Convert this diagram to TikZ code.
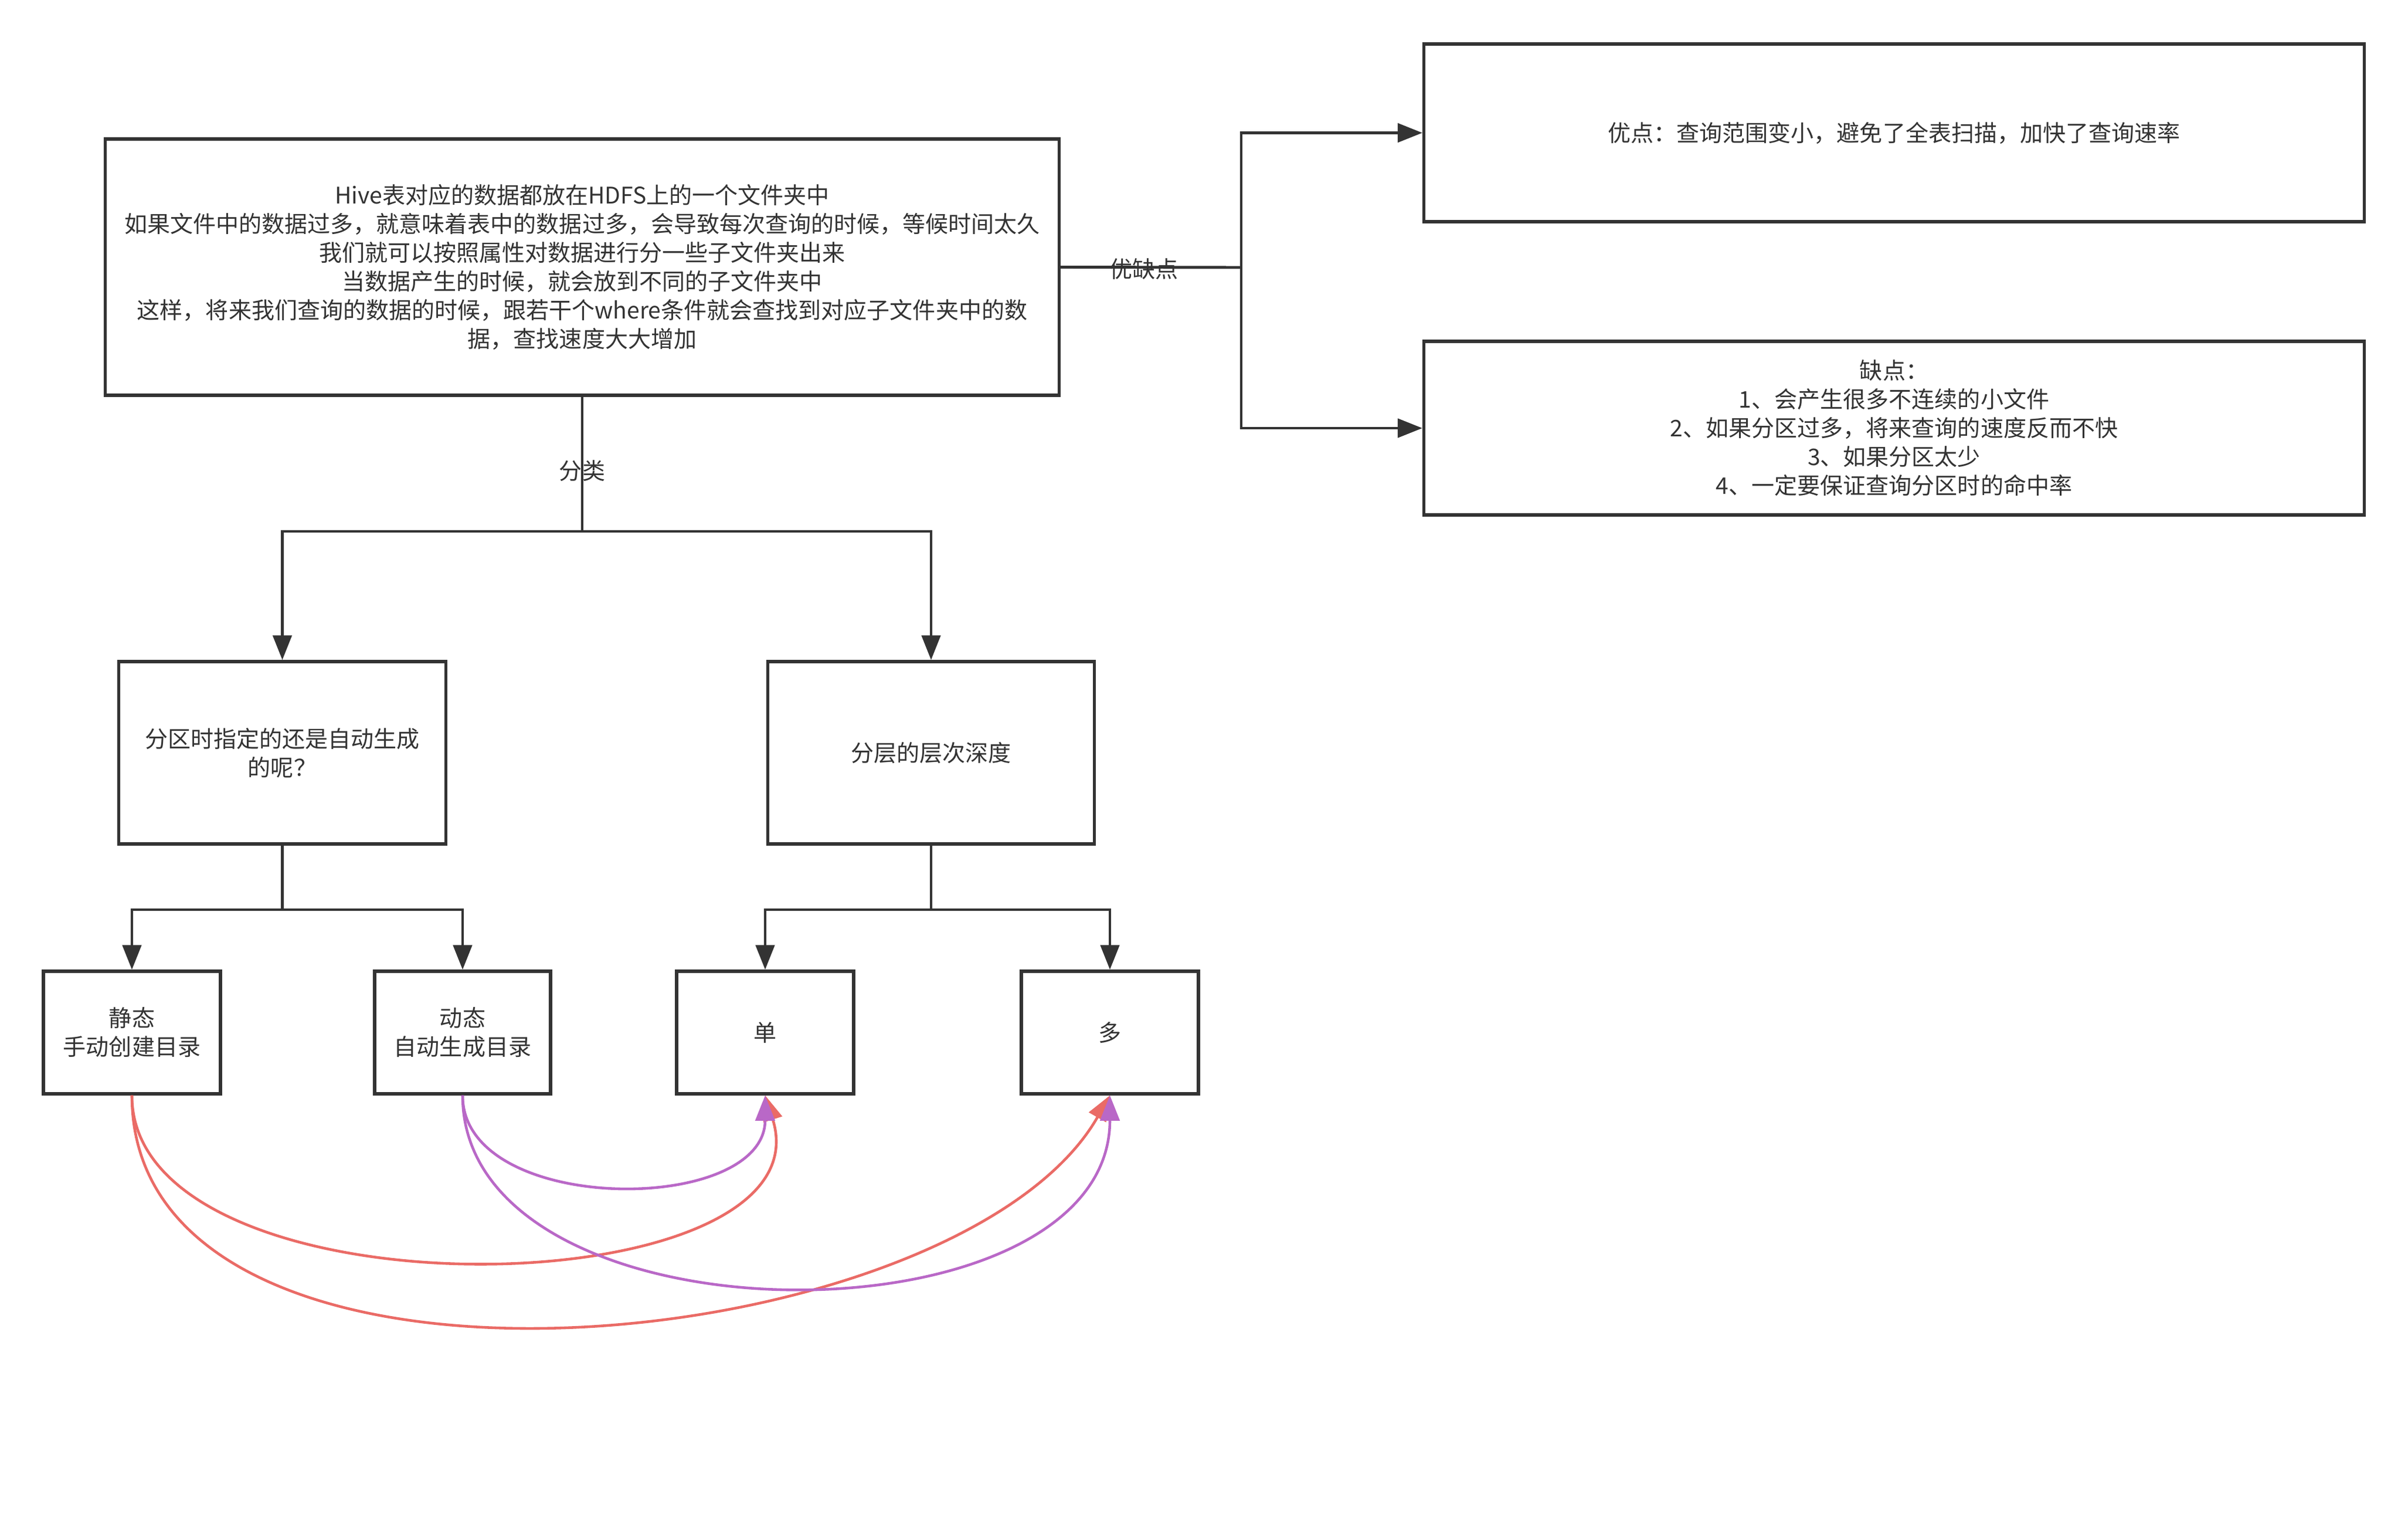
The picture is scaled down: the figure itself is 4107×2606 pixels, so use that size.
\documentclass[tikz,border=0pt]{standalone}
\usepackage{fontspec}
\setmainfont{Noto Sans CJK SC}
\usetikzlibrary{arrows.meta}
\definecolor{ink}{HTML}{333333}
\definecolor{redline}{HTML}{EA6B66}
\definecolor{purpleline}{RGB}{185,104,199}
\tikzset{
	box/.style={draw=ink, line width=1.5pt, text=ink, align=center, inner sep=0pt, font=\fontsize{11.1pt}{13.95pt}\selectfont},
	lbl/.style={text=ink, inner sep=0pt, font=\fontsize{11.1pt}{13.95pt}\selectfont},
	conn/.style={draw=ink, line width=1.4pt},
	arr/.style={conn, -{Triangle[length=0.42cm, width=0.32cm]}},
	redcurve/.style={draw=redline, line width=1.3pt, -{Triangle[length=0.43cm, width=0.33cm]}},
	purplecurve/.style={draw=purpleline, line width=1.3pt, -{Triangle[length=0.43cm, width=0.33cm]}}
}

\begin{document}
\begin{tikzpicture}[x=0.01cm, y=-0.01cm]
		%%%%% START %%%%%
		\useasboundingbox (0, 0) rectangle (4107, 2606);
		\fill[white] (0, 0) rectangle (4107, 2606);
		
		\node[box, minimum width=16.26cm, minimum height=4.37cm] (hive) at (993, 455.5) {Hive表对应的数据都放在HDFS上的一个文件夹中\\如果文件中的数据过多，就意味着表中的数据过多，会导致每次查询的时候，等候时间太久\\我们就可以按照属性对数据进行分一些子文件夹出来\\当数据产生的时候，就会放到不同的子文件夹中\\这样，将来我们查询的数据的时候，跟若干个where条件就会查找到对应子文件夹中的数\\据，查找速度大大增加};
		
		\node[box, minimum width=16.03cm, minimum height=3.03cm] (pros) at (3230.5, 226.5) {优点：查询范围变小，避免了全表扫描，加快了查询速率};
		\node[box, minimum width=16.03cm, minimum height=2.96cm] (cons) at (3230.5, 730) {缺点：\\1、会产生很多不连续的小文件\\2、如果分区过多，将来查询的速度反而不快\\3、如果分区太少\\4、一定要保证查询分区时的命中率};
		
		\node[box, minimum width=5.57cm, minimum height=3.11cm] (part) at (481.5, 1283.5) {分区时指定的还是自动生成\\的呢？};
		\node[box, minimum width=5.56cm, minimum height=3.11cm] (depth) at (1588, 1283.5) {分层的层次深度};
		
		\node[box, minimum width=3.02cm, minimum height=2.09cm] (static) at (225, 1760.5) {静态\\手动创建目录};
		\node[box, minimum width=3.00cm, minimum height=2.09cm] (dynamic) at (789, 1760.5) {动态\\自动生成目录};
		\node[box, minimum width=3.02cm, minimum height=2.09cm] (single) at (1305, 1760.5) {单};
		\node[box, minimum width=3.02cm, minimum height=2.09cm] (multi) at (1893, 1760.5) {多};
		
		\coordinate (split) at (2117, 456);
		\coordinate (fork) at (993, 906);
		\coordinate (forkA) at (481.5, 1551);
		\coordinate (forkB) at (1588, 1551);
		
		\draw[conn] (hive.east) -- (split);
		\draw[arr] (split) |- (pros.west);
		\draw[arr] (split) |- (cons.west);
		\node[lbl] (prosconslbl) at (1951, 459) {优缺点};
		
		\draw[conn] (hive.south) -- (fork);
		\draw[arr] (fork) -| (part.north);
		\draw[arr] (fork) -| (depth.north);
		\node[lbl] (kindlbl) at (993, 803) {分类};
		
		\draw[conn] (part.south) -- (forkA);
		\draw[arr] (forkA) -| (static.north);
		\draw[arr] (forkA) -| (dynamic.north);
		
		\draw[conn] (depth.south) -- (forkB);
		\draw[arr] (forkB) -| (single.north);
		\draw[arr] (forkB) -| (multi.north);
		
		\draw[redcurve] (static.south) .. controls +(0, 389) and +(116, 365) .. (single.south);
		\draw[redcurve] (static.south) .. controls +(0, 590) and +(-260, 455) .. (multi.south);
		\draw[purplecurve] (dynamic.south) .. controls +(0, 205) and +(0, 205) .. (single.south);
		\draw[purplecurve] (dynamic.south) .. controls +(0, 435) and +(0, 435) .. (multi.south);
		
		%%%%% END %%%%%
\end{tikzpicture}
\end{document}
